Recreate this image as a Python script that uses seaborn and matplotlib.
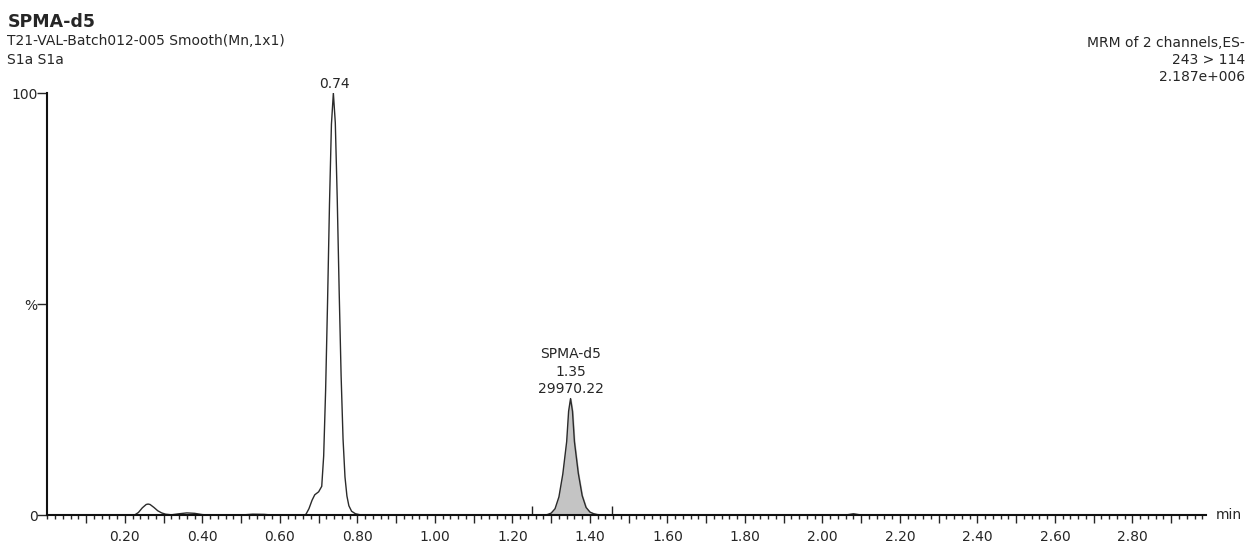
import numpy as np
import pandas as pd
import matplotlib
matplotlib.use("Agg")
import matplotlib.pyplot as plt
from matplotlib.ticker import FixedLocator, MultipleLocator, FuncFormatter
import seaborn as sns

sns.set_style("ticks")
plt.rcParams['font.family'] = ['DejaVu Sans']

# chromatogram trace (time in min, intensity in %)
time = [0.00, 0.10, 0.20, 0.225, 0.235, 0.245, 0.255, 0.260, 0.265, 0.275, 0.285,
        0.295, 0.305, 0.320, 0.340, 0.360, 0.380, 0.400, 0.420, 0.500, 0.530,
        0.560, 0.580, 0.665, 0.668, 0.675, 0.683, 0.690, 0.700, 0.708, 0.713,
        0.718, 0.723, 0.728, 0.733, 0.738, 0.743, 0.748, 0.753, 0.758, 0.763,
        0.768, 0.773, 0.778, 0.785, 0.795, 0.810, 1.000, 1.200, 1.280, 1.290,
        1.300, 1.310, 1.320, 1.330, 1.340, 1.345, 1.350, 1.355, 1.360, 1.370,
        1.380, 1.390, 1.400, 1.410, 1.420, 1.440, 1.460, 1.600, 1.800, 2.000,
        2.060, 2.080, 2.100, 2.400, 2.700, 2.990]
signal = [0.0, 0.0, 0.0, 0.0, 0.6, 1.7, 2.5, 2.6, 2.5, 1.8, 1.0,
          0.5, 0.2, 0.05, 0.3, 0.5, 0.4, 0.1, 0.0, 0.0, 0.2,
          0.15, 0.0, 0.0, 0.3, 1.5, 3.5, 4.8, 5.5, 6.8, 14.0,
          29.5, 50.4, 73.7, 92.6, 100.0, 93.0, 75.0, 53.0, 33.0, 18.0,
          9.0, 4.5, 2.2, 0.9, 0.3, 0.0, 0.0, 0.0, 0.0, 0.1,
          0.45, 1.5, 4.3, 9.7, 17.4, 24.6, 27.6, 24.6, 17.4, 9.9,
          4.6, 1.8, 0.7, 0.3, 0.1, 0.0, 0.0, 0.0, 0.0, 0.0,
          0.0, 0.3, 0.0, 0.0, 0.0, 0.0]

# integrated peak window and its labels
int_start, int_end = 1.25, 1.456
peak_rt = [0.74, 1.35]
peak_top = [100.0, 27.6]
peak_text = ["0.74", "SPMA-d5\n1.35\n29970.22"]

header_left = ["T21-VAL-Batch012-005 Smooth(Mn,1x1)", "S1a S1a"]
header_right = ["MRM of 2 channels,ES-", "243 > 114", "2.187e+006"]

df = pd.DataFrame({"time": time, "signal": signal})

fig = plt.figure(figsize=(12.46, 5.45), dpi=100)
ax = fig.add_axes([0.038, 0.055, 0.93, 0.774])

sns.lineplot(data=df, x="time", y="signal", ax=ax, estimator=None, sort=False,
             color="#2b2b2b", linewidth=1.0)

# shade the integrated peak
win = df[(df.time >= int_start) & (df.time <= int_end)]
ax.fill_between(win.time, 0, win.signal, color="#c4c4c4", zorder=1)
ax.vlines([int_start, int_end], 0, 2.2, color="#222222", linewidth=1.0)

ax.set_xlim(0.0, 2.99)
ax.set_ylim(0, 100)
sns.despine(ax=ax)
for s in ["left", "bottom"]:
    ax.spines[s].set_linewidth(1.5)
    ax.spines[s].set_color("#111111")

ax.xaxis.set_major_locator(FixedLocator(np.arange(1, 30) / 10))
ax.xaxis.set_minor_locator(MultipleLocator(0.02))
ax.xaxis.set_major_formatter(FuncFormatter(
    lambda v, p: f"{v:.2f}" if round(v * 10) % 2 == 0 else ""))
ax.tick_params(axis="x", which="major", length=5.5, width=1.0, labelsize=10, pad=5)
ax.tick_params(axis="x", which="minor", length=3, width=1.0)
ax.set_yticks([0, 50, 100])
ax.set_yticklabels(["0", "%", "100"])
ax.tick_params(axis="y", length=7, width=1.0, labelsize=10, pad=0)
ax.set_xlabel("")
ax.set_ylabel("")

# peak annotations
for rt, top, txt in zip(peak_rt, peak_top, peak_text):
    ax.text(rt, top + 0.6, txt, ha="center", va="bottom", fontsize=10,
            linespacing=1.3)
ax.text(1.008, 0, "min", transform=ax.transAxes, ha="left", va="center", fontsize=10)

# header texts
fig.text(0.006, 1 - 22 / 545, "SPMA-d5", ha="left", va="center", fontsize=12.5,
         fontweight="bold")
for i, line in enumerate(header_left):
    fig.text(0.006, 1 - (41 + 19 * i) / 545, line, ha="left", va="center", fontsize=10)
for i, line in enumerate(header_right):
    fig.text(0.999, 1 - (43 + 17 * i) / 545, line, ha="right", va="center", fontsize=10)

fig.savefig("out.png", dpi=100)
